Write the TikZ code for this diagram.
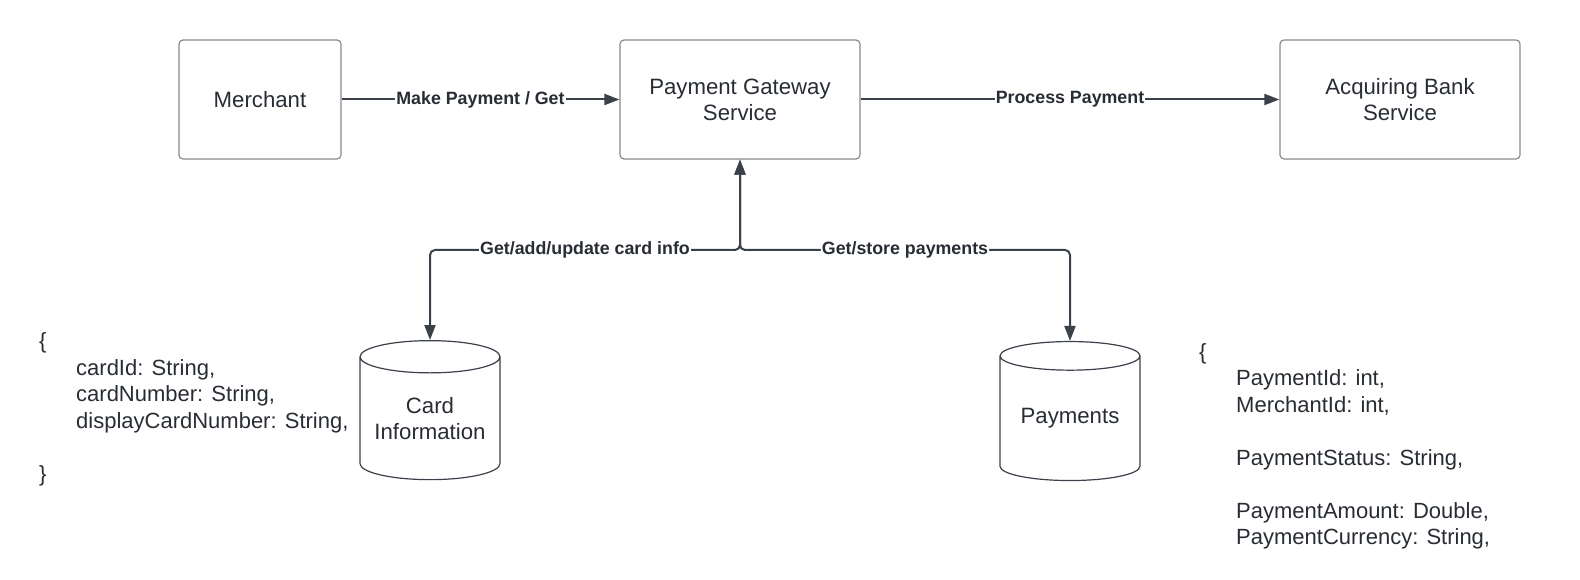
\documentclass[tikz,border=0pt]{standalone}
\usepackage{fontspec}
\setmainfont{Liberation Sans}
\usetikzlibrary{arrows.meta,positioning,shapes.geometric}
\definecolor{ink}{HTML}{282C33}
\definecolor{wire}{HTML}{3A414A}
\definecolor{edge}{HTML}{8A8A8A}
\tikzset{
  box/.style={draw=edge,line width=1.2pt,rounded corners=4pt,minimum width=#1,minimum height=119pt,inner sep=2pt,align=center,text=ink,font=\fontsize{22.2}{26}\selectfont},
  box/.default={240pt},
  db/.style={draw=wire,line width=1.2pt,cylinder,shape border rotate=90,aspect=0.29,minimum width=140pt,minimum height=139pt,inner sep=0pt,align=center,text=ink,font=\fontsize{22.2}{26}\selectfont},
  arr/.style={->,line width=2pt,draw=wire},
  dbl/.style={<->,line width=2pt,draw=wire,rounded corners=5pt},
  lbl/.style={fill=white,inner sep=1pt,text=ink,font=\bfseries\fontsize{17.8}{20}\selectfont},
  json/.style={anchor=west,align=left,inner sep=0pt,text=ink,font=\fontsize{22}{26.5}\selectfont},
}

\begin{document}
\begin{tikzpicture}[x=1pt,y=1pt,>={Triangle[length=15pt,width=11pt]}]
 \useasboundingbox (0,0) rectangle (1580,-580);
 \node[box=162pt] (merchant) at (260,-99.5) {Merchant};
 \node[box] (gateway) at (740,-99.5) {Payment Gateway\\Service};
 \node[box] (bank) at (1400,-99.5) {Acquiring Bank\\Service};
 \node[db] (cards) at (430,-418.5) {Card\\Information};
 \node[db] (payments) at (1070,-418.5) {Payments};
 \coordinate (hub) at (740,-250);
 \draw[arr] (merchant) -- node[lbl]{Make Payment / Get} (gateway);
 \draw[arr] (gateway) -- node[lbl]{Process Payment} (bank);
 \draw[dbl] (gateway.south) -- (hub) -- node[lbl]{Get/add/update card info} (hub -| cards.north) -- (cards.north);
 \draw[dbl] (gateway.south) -- (hub) -- node[lbl]{Get/store payments} (hub -| payments.north) -- (payments.north);
 % record layouts
 \node[json] (cardfields) at (39,-409.5) {\{\\\hspace*{37pt}cardId: String,\\\hspace*{37pt}cardNumber: String,\\\hspace*{37pt}displayCardNumber: String,\\\mbox{}\\\}};
 \node[json] (payfields) at (1199,-446.5) {\{\\\hspace*{37pt}PaymentId: int,\\\hspace*{37pt}MerchantId: int,\\\mbox{}\\\hspace*{37pt}PaymentStatus: String,\\\mbox{}\\\hspace*{37pt}PaymentAmount: Double,\\\hspace*{37pt}PaymentCurrency: String,};
\end{tikzpicture}
\end{document}
